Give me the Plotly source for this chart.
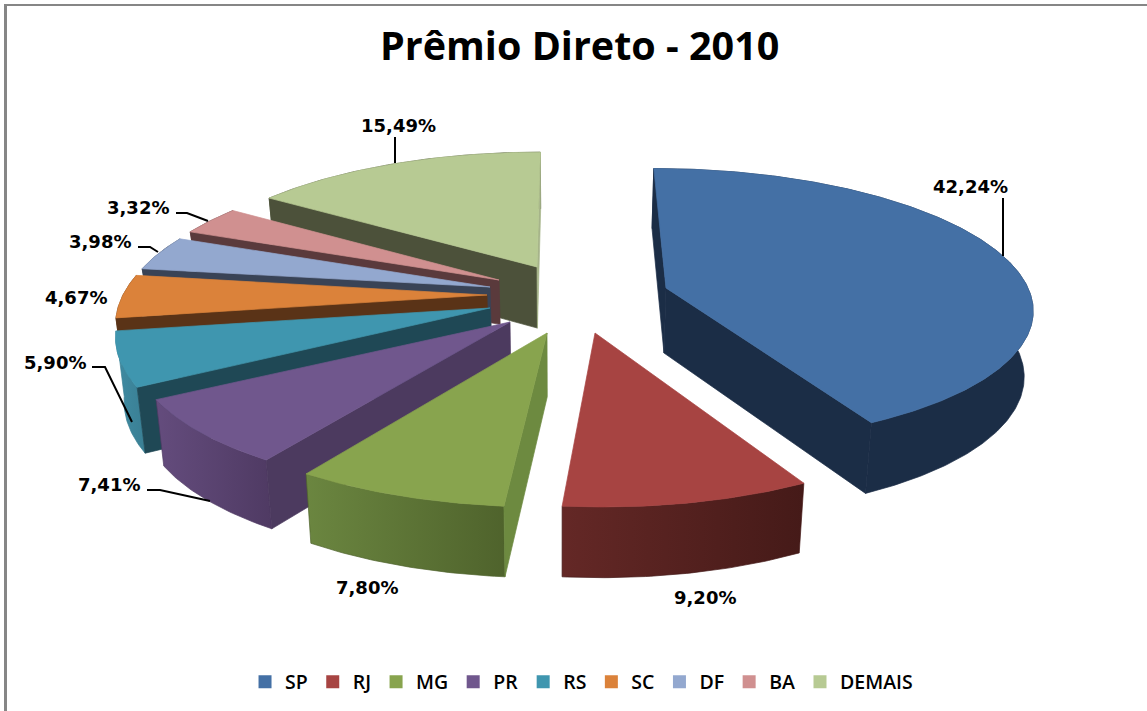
import numpy as np
import plotly.graph_objects as go

# ---- data ----
categories = ["SP", "RJ", "MG", "PR", "RS", "SC", "DF", "BA", "DEMAIS"]
values = [42.24, 9.20, 7.80, 7.41, 5.90, 4.67, 3.98, 3.32, 15.49]
chart_title = "Prêmio Direto - 2010"

# ---- style ----
top_colors = ["#4470a5", "#a74442", "#88a44e", "#70578d", "#3f96af", "#db823a", "#93a8cf", "#d09090", "#b7ca93"]
cut_colors = ["#1b2d46", "#451a18", "#6d8a40", "#4c3a5f", "#1f4855", "#5a3317", "#394356", "#5a3a3c", "#4c513a"]
cut_thin = {0: "#1b2d46", 8: "#a6b48a"}
rim_colors = [("#1b2d46", "#1b2d46"), ("#642826", "#451a18"), ("#6b8640", "#4f632c"), ("#644c7d", "#4f3a63"),
              ("#3f8ba2", "#3a7f94"), ("#5a3317", "#5a3317"), ("#394356", "#394356"), ("#5a3a3c", "#5a3a3c"),
              ("#4c513a", "#4c513a")]

# ---- layout of the exploded perspective pie (pixel space axes) ----
apex = [(666, 288), (595, 333), (547, 333), (510, 322), (490, 308), (487, 295), (490, 287), (499, 280), (537, 267)]
rx = [362, 369, 375, 370, 367, 364, 361, 359, 357]
ky = [135, 145, 145, 142, 145, 145, 135, 135, 134]
persp = [0.13, 1 / 6, 1 / 6, 1 / 6, 1 / 6, 1 / 6, 1 / 6, 1 / 6, 1 / 6]
depth_k = [1.05, 1, 1, 1, 1, 1, 0.72, 0.72, 1]
draw_order = [8, 7, 6, 5, 4, 3, 2, 1, 0]
VX = 560

label_pos = [(970, 186), (705, 597), (367, 587), (109, 484), (55, 362), (76, 297), (100, 241), (138, 207), (398, 125)]
leaders = [
    [(1003, 198), (1003, 256)], None, None,
    [(147, 490), (160, 490), (210, 501)],
    [(92, 367), (105, 367), (132, 422)],
    None,
    [(138, 247), (150, 247), (158, 252)],
    [(176, 213), (187, 213), (208, 221)],
    [(395, 137), (395, 163)],
]


def project(i, deg):
    a = np.radians(deg)
    u, v = np.sin(a), -np.cos(a)
    s = 1 / (1 - persp[i] * v)
    ax, ay = apex[i]
    return ax + (ax - VX) * (s - 1) + rx[i] * u * s, ay + ky[i] * v * s


def drop(i, x, y):
    d = (62 + (np.asarray(y) - 290) * 0.04) * depth_k[i]
    return np.asarray(x) + (VX - np.asarray(x)) * 0.019, np.asarray(y) + d


def poly(x, y, color, gradient=None, name=None):
    kw = dict(fillcolor=color)
    if gradient:
        kw = dict(fillgradient=dict(type="horizontal", colorscale=[[0, gradient[0]], [1, gradient[1]]]))
    return go.Scatter(x=list(x) + [x[0]], y=list(y) + [y[0]], mode="lines", fill="toself",
                      line=dict(width=0.7, color=color), showlegend=False,
                      hoverinfo="skip" if name is None else "text", text=name, **kw)


fig = go.Figure()
edges = np.cumsum([0] + values) / sum(values) * 360

for i in draw_order:
    a0, a1 = edges[i], edges[i + 1]
    n = max(12, int((a1 - a0) * 1.5))
    ang = np.linspace(a0, a1, n)
    ax_, ay_ = project(i, ang)
    bx_, by_ = drop(i, ax_, ay_)
    cx, cy = apex[i]
    cbx, cby = drop(i, cx, cy)
    # rim
    rx_poly = np.r_[ax_, bx_[::-1]]
    ry_poly = np.r_[ay_, by_[::-1]]
    c1, c2 = rim_colors[i]
    fig.add_trace(poly(rx_poly, ry_poly, c2, gradient=(c1, c2) if c1 != c2 else None))
    # cut faces, only those turned to the viewer
    if ax_[0] < cx:
        col = cut_colors[i]
        fig.add_trace(poly([cx, ax_[0], bx_[0], cbx], [cy, ay_[0], by_[0], cby], col))
    if ax_[-1] > cx:
        col = cut_thin.get(i, cut_colors[i])
        fig.add_trace(poly([cx, ax_[-1], bx_[-1], cbx], [cy, ay_[-1], by_[-1], cby], col))
    # top surface
    pct = f"{values[i]:.2f}".replace(".", ",") + "%"
    fig.add_trace(poly(np.r_[cx, ax_], np.r_[cy, ay_], top_colors[i], name=f"{categories[i]}: {pct}"))

# legend swatches
for c, col in zip(categories, top_colors):
    fig.add_trace(go.Scatter(x=[None], y=[None], mode="markers", name=c,
                             marker=dict(symbol="square", size=13, color=col)))

# leader lines
for pts in leaders:
    if pts:
        fig.add_trace(go.Scatter(x=[p[0] for p in pts], y=[p[1] for p in pts], mode="lines",
                                 line=dict(color="black", width=2), showlegend=False, hoverinfo="skip"))

# data labels
for v, (x, y) in zip(values, label_pos):
    fig.add_annotation(x=x, y=y, text="<b>" + f"{v:.2f}".replace(".", ",") + "%</b>", showarrow=False,
                       font=dict(family="DejaVu Sans", size=18, color="black"))

fig.add_annotation(x=579, y=45, text="<b>" + chart_title + "</b>", showarrow=False,
                   font=dict(family="Open Sans", size=39.5, color="black"))

# chart frame
fig.add_shape(type="rect", x0=4, x1=1147, y0=4, y1=6, fillcolor="#868686", line_width=0, layer="below")
fig.add_shape(type="rect", x0=4, x1=7, y0=4, y1=711, fillcolor="#868686", line_width=0, layer="below")

fig.update_layout(
    width=1147, height=711, margin=dict(l=0, r=0, t=0, b=0),
    paper_bgcolor="white", plot_bgcolor="white",
    xaxis=dict(range=[0, 1147], visible=False, fixedrange=True),
    yaxis=dict(range=[711, 0], visible=False, fixedrange=True),
    legend=dict(orientation="h", x=0.507, xanchor="center", y=1 - 682 / 711, yanchor="middle",
                font=dict(family="Open Sans", size=19.5, color="black", weight=600),
                itemwidth=30, tracegroupgap=0, bgcolor="rgba(0,0,0,0)"),
)
fig.write_html("out.html", config=dict(displayModeBar=False),
               post_script="document.body.style.margin='0';document.body.style.overflow='hidden';")
